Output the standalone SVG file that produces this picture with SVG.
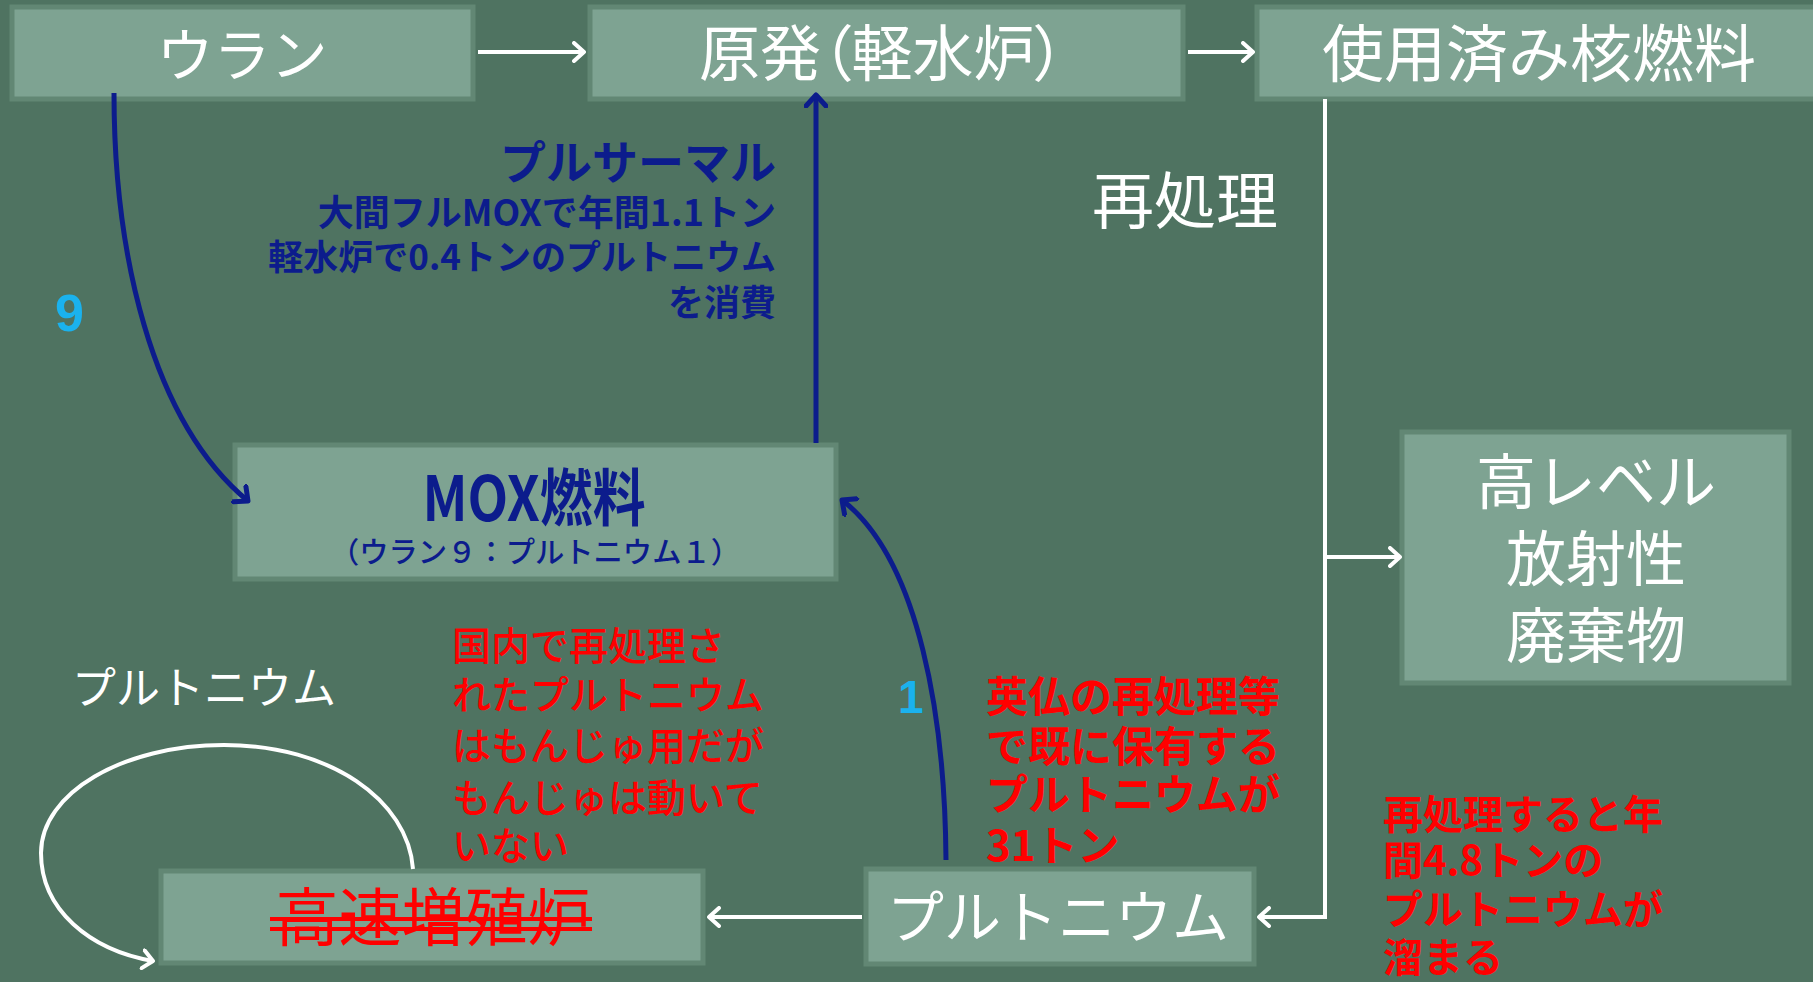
<svg xmlns="http://www.w3.org/2000/svg" width="1813" height="982" viewBox="0 0 1813 982">
<defs>
<style>
.box{fill:#7EA392;stroke:#628774;stroke-width:5}
.wt{fill:#FFFFFF;font-family:"Noto Sans CJK JP","Noto Sans",sans-serif}
.bt{fill:#0C1C8C;font-family:"Noto Sans CJK JP","Noto Sans",sans-serif;font-weight:700}
.rt{fill:#FF0000;font-family:"Noto Sans CJK JP","Noto Sans",sans-serif}
.cy{fill:#1AB2EE;font-family:"Liberation Sans",Arial,sans-serif;font-weight:700}
.wl{fill:none;stroke:#FFFFFF;stroke-width:4}
.bl{fill:none;stroke:#0C1C8C;stroke-width:5}
</style>
<marker id="wa" viewBox="0 0 14 22" refX="12" refY="11" markerWidth="14" markerHeight="22" markerUnits="userSpaceOnUse" orient="auto">
<path d="M2,2 L12,11 L2,20" fill="none" stroke="#FFFFFF" stroke-width="4" stroke-linecap="round" stroke-linejoin="round"/>
</marker>
<marker id="ba" viewBox="0 0 16 24" refX="13" refY="12" markerWidth="16" markerHeight="24" markerUnits="userSpaceOnUse" orient="auto">
<path d="M2,2 L13,12 L2,22" fill="none" stroke="#0C1C8C" stroke-width="5" stroke-linecap="round" stroke-linejoin="round"/>
</marker>
</defs>
<rect x="0" y="0" width="1813" height="982" fill="#4F7361"/>

<g id="uran">
<rect class="box" x="12" y="7" width="461" height="92"/>
<text class="wt" x="242" y="76" font-size="57" text-anchor="middle">ウラン</text>
</g>
<g id="genpatsu">
<rect class="box" x="590" y="7" width="593" height="92"/>
<text class="wt" x="882" y="76" font-size="61" text-anchor="middle" style="font-feature-settings:'palt'">原発（軽水炉）</text>
</g>
<g id="shiyozumi">
<rect class="box" x="1257" y="7" width="570" height="92"/>
<text class="wt" x="1539" y="77" font-size="62" text-anchor="middle">使用済み核燃料</text>
</g>
<g id="saishori">
<text class="wt" x="1092" y="224" font-size="62">再処理</text>
</g>
<g id="kourebel">
<rect class="box" x="1402" y="432" width="387" height="251"/>
<text class="wt" font-size="60" text-anchor="middle"><tspan x="1596" y="504">高レベル</tspan><tspan x="1596" y="581">放射性</tspan><tspan x="1596" y="658">廃棄物</tspan></text>
</g>
<g id="pluthermal">
<text class="bt" text-anchor="end"><tspan x="776" y="179" font-size="46">プルサーマル</tspan><tspan x="776" y="226" font-size="36">大間フルMOXで年間1.1トン</tspan><tspan x="776" y="270" font-size="35">軽水炉で0.4トンのプルトニウム</tspan><tspan x="776" y="316" font-size="36">を消費</tspan></text>
</g>
<g id="label9"><text class="cy" x="55" y="331" font-size="52">9</text></g>
<g id="mox">
<rect class="box" x="235" y="445" width="601" height="134"/>
<text class="bt" x="534" y="521" font-size="62" text-anchor="middle" textLength="223" lengthAdjust="spacingAndGlyphs">MOX燃料</text>
<text class="bt" x="535" y="563" font-size="29" text-anchor="middle" style="font-weight:500" textLength="410" lengthAdjust="spacingAndGlyphs">（ウラン９：プルトニウム１）</text>
</g>
<g id="label1"><text class="cy" x="898" y="713" font-size="46">1</text></g>
<g id="plu-label"><text class="wt" x="72" y="704" font-size="44">プルトニウム</text></g>
<g id="note-kokunai">
<text class="rt" font-size="39" font-weight="500"><tspan x="452" y="660">国内で再処理さ</tspan><tspan x="452" y="709">れたプルトニウム</tspan><tspan x="452" y="760">はもんじゅ用だが</tspan><tspan x="452" y="812">もんじゅは動いて</tspan><tspan x="452" y="860">いない</tspan></text>
</g>
<g id="note-eifutsu">
<text class="rt" font-size="42" font-weight="700"><tspan x="986" y="712">英仏の再処理等</tspan><tspan x="986" y="762">で既に保有する</tspan><tspan x="986" y="810">プルトニウムが</tspan><tspan x="986" y="861">31トン</tspan></text>
</g>
<g id="note-saishori">
<text class="rt" font-size="40" font-weight="700"><tspan x="1383" y="829">再処理すると年</tspan><tspan x="1383" y="875">間4.8トンの</tspan><tspan x="1383" y="924">プルトニウムが</tspan><tspan x="1383" y="972">溜まる</tspan></text>
</g>
<g id="kousoku">
<rect class="box" x="161" y="871" width="542" height="92"/>
<text class="rt" x="433" y="940" font-size="63" text-anchor="middle">高速増殖炉</text>
<line x1="270" y1="919" x2="592" y2="919" stroke="#FF0000" stroke-width="4"/>
<line x1="270" y1="929" x2="592" y2="929" stroke="#FF0000" stroke-width="4"/>
</g>
<g id="plutonium">
<rect class="box" x="866" y="869" width="388" height="95"/>
<text class="wt" x="1058" y="938" font-size="57" text-anchor="middle">プルトニウム</text>
</g>

<g id="connectors">
<line class="wl" x1="478" y1="52" x2="584" y2="52" marker-end="url(#wa)"/>
<line class="wl" x1="1188" y1="52" x2="1253" y2="52" marker-end="url(#wa)"/>
<polyline class="wl" points="1325,99 1325,917 1259,917" marker-end="url(#wa)"/>
<line class="wl" x1="1325" y1="557" x2="1400" y2="557" marker-end="url(#wa)"/>
<line class="wl" x1="862" y1="917" x2="709" y2="917" marker-end="url(#wa)"/>
<path class="wl" d="M413,869 C408,800 330,745 224,745 C123,745 41,793 41,853 C41,910 90,950 153,961" marker-end="url(#wa)"/>
<line class="bl" x1="816" y1="443" x2="816" y2="95" marker-end="url(#ba)"/>
<path class="bl" d="M114,93 C114,250 150,420 248,501" marker-end="url(#ba)"/>
<path class="bl" d="M946,860 C945,720 920,560 842,500" marker-end="url(#ba)"/>
</g>
</svg>
